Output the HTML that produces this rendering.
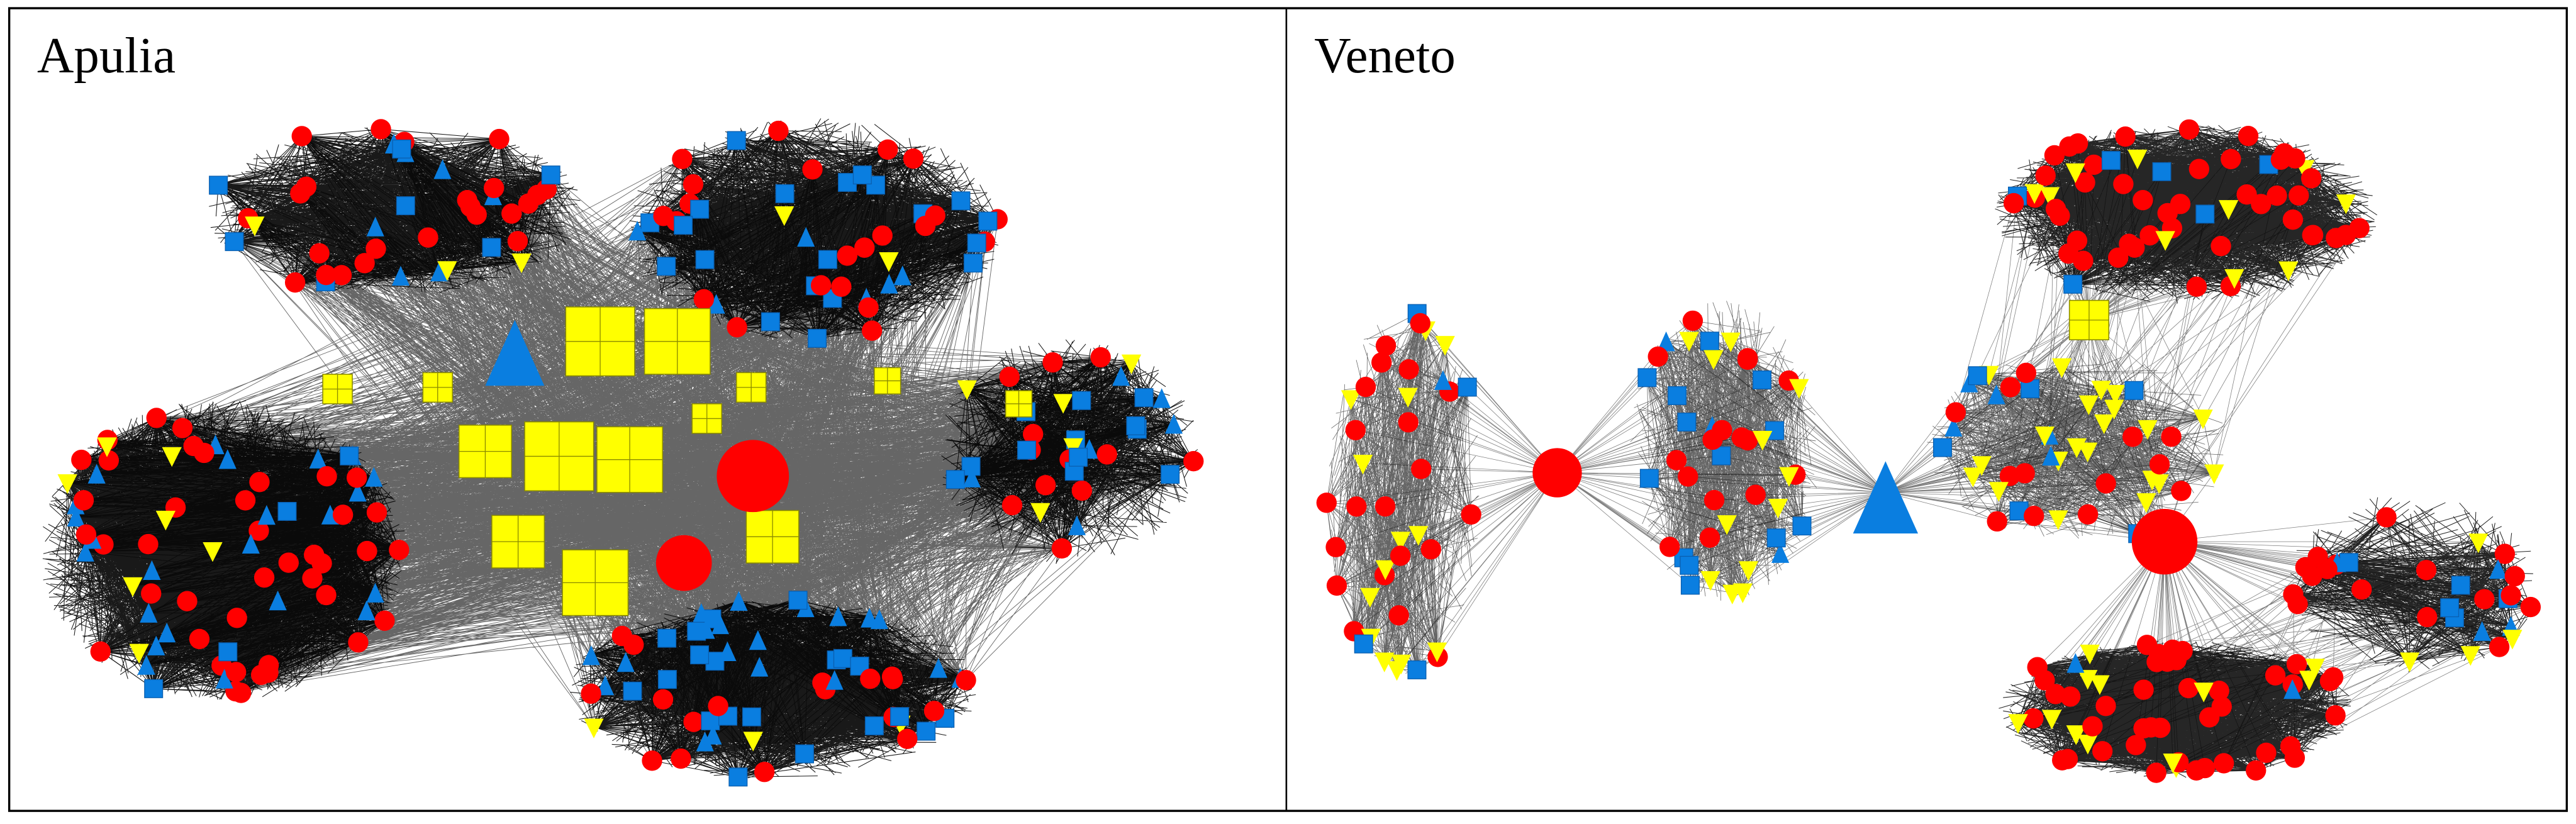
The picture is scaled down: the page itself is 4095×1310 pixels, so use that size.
<!DOCTYPE html>
<html><head><meta charset="utf-8"><style>
html,body{margin:0;padding:0;background:#fff;width:4095px;height:1310px;overflow:hidden}
svg{display:block}
</style></head><body>
<svg id="s" width="4095" height="1310" viewBox="0 0 1568 502" xmlns="http://www.w3.org/2000/svg">
<rect x="0" y="0" width="1568" height="502" fill="#fff"/>
<g id="edges" stroke="#000" fill="none"></g>
<g id="nodes"></g>
<rect x="5" y="5" width="1558" height="489" fill="none" stroke="#000" stroke-width="1.3"/>
<line x1="783" y1="5" x2="783" y2="494" stroke="#000" stroke-width="1"/>
<text x="22" y="44" font-family="Liberation Serif, serif" font-size="31" fill="#000">Apulia</text>
<text x="800" y="44" font-family="Liberation Serif, serif" font-size="31" fill="#000">Veneto</text>
</svg>
<script>
var seed=7;function R(){seed=(seed*16807)%2147483647;return (seed-1)/2147483646;}
var E=document.getElementById('edges'),N=document.getElementById('nodes');
var NS='http://www.w3.org/2000/svg';
var ep=[];
function line(a,b){ep.push('M'+a[0].toFixed(1)+' '+a[1].toFixed(1)+'L'+b[0].toFixed(1)+' '+b[1].toFixed(1));}
function flush(op,w){var p=document.createElementNS(NS,'path');p.setAttribute('d',ep.join(''));p.setAttribute('stroke-opacity',op);p.setAttribute('stroke-width',w);E.appendChild(p);ep=[];}
function inE(c){var t=R()*6.283,r=Math.sqrt(R());return [c[0]+Math.cos(t)*c[2]*r,c[1]+Math.sin(t)*c[3]*r];}
var nodeList=[];
function node(t,x,y,s){nodeList.push([t,x,y,s||6]);}
function cluster(c,n,weights,edges){var pts=[];for(var i=0;i<n;i++){var p=inE(c);pts.push(p);var r=R(),acc=0,t='c';for(var k in weights){acc+=weights[k];if(r<acc){t=k;break;}}node(t,p[0],p[1]);}
 for(var i=0;i<edges;i++){var a=pts[Math.floor(R()*n)],b=R()<0.5?pts[Math.floor(R()*n)]:inE(c);line(a,b);}return pts;}
function connect(A,B,n){for(var i=0;i<n;i++){line(A[Math.floor(R()*A.length)],B[Math.floor(R()*B.length)]);}}
function hub(h,A,n){for(var i=0;i<n;i++)line(h,A[Math.floor(R()*A.length)]);}
// Apulia
var aL=cluster([135,335,112,92],75,{c:.6,t:.3,y:.06,s:.04},4500);
var aT=cluster([240,128,115,52],40,{c:.5,s:.3,t:.12,y:.08},1900);
var aTR=cluster([495,140,115,68],50,{c:.4,s:.4,t:.1,y:.1},2300);
var aR=cluster([650,275,80,70],35,{c:.35,s:.35,t:.15,y:.15},1300);
var aB=cluster([470,420,125,55],60,{c:.35,s:.35,t:.25,y:.05},2600);
var aC=[];for(var i=0;i<40;i++)aC.push(inE([420,290,140,95]));
flush(0.9,0.4);
connect(aL,aC,900);connect(aT,aC,500);connect(aTR,aC,500);connect(aR,aC,600);connect(aB,aC,600);
connect(aL,aTR,250);connect(aL,aR,400);connect(aT,aB,200);connect(aTR,aB,200);connect(aR,aB,200);
flush(0.6,0.35);
// Veneto
var vL=cluster([855,300,48,112],40,{c:.45,y:.35,s:.15,t:.05},800);
var vM=cluster([1050,275,58,92],45,{c:.45,s:.3,y:.2,t:.05},1100);
var vC=cluster([1265,272,92,58],45,{c:.35,y:.35,s:.15,t:.15},1000);
flush(0.6,0.3);
var vTR=cluster([1330,130,118,55],60,{c:.75,y:.15,s:.07,t:.03},3000);
var vRL=cluster([1470,355,78,55],30,{c:.6,y:.2,s:.1,t:.1},700);
var vB=cluster([1325,432,108,42],55,{c:.8,y:.15,t:.05},2800);
flush(0.85,0.4);
hub([948,288],vL,120);hub([948,288],vM,120);hub([1148,300],vM,120);hub([1148,300],vC,120);
hub([1272,195],vTR,120);hub([1272,195],vC,80);hub([1318,330],vRL,100);hub([1318,330],vB,120);hub([1318,330],vC,60);
connect(vC,vTR,60);connect(vRL,vB,60);
flush(0.5,0.3);
[[365,208,42],[412,208,40],[295,275,32],[340,278,42],[383,280,40],[315,330,32],[362,355,40],[470,327,32],[205,237,18],[266,236,18],[457,236,18],[430,255,18],[540,232,16],[620,246,16]].forEach(function(q){node('Y',q[0],q[1],q[2]);});
node('C',458,290,22);node('C',416,343,17);node('T',313,215,40);
node('C',948,288,15);node('T',1148,303,44);node('Y',1272,195,24);node('C',1318,330,20);
var out='';
nodeList.forEach(function(n){var t=n[0],x=n[1],y=n[2],s=n[3];
 if(t=='c'||t=='C'){var r=t=='C'?s:6.2;out+='<circle cx="'+x+'" cy="'+y+'" r="'+r+'" fill="#ff0000"/>';}
 else if(t=='s'){out+='<rect x="'+(x-5.5)+'" y="'+(y-5.5)+'" width="11" height="11" fill="#0a7ee0" stroke="#0a5fb0" stroke-width=".5"/>';}
 else if(t=='t'||t=='T'){var h=t=='T'?s:12;out+='<polygon points="'+x+','+(y-h/2)+' '+(x-h*0.45)+','+(y+h/2)+' '+(x+h*0.45)+','+(y+h/2)+'" fill="#0a7ee0"/>';}
 else if(t=='y'){out+='<polygon points="'+(x-6)+','+(y-5)+' '+(x+6)+','+(y-5)+' '+x+','+(y+7)+'" fill="#ffff00"/>';}
 else if(t=='Y'){var h=s/2;out+='<rect x="'+(x-h)+'" y="'+(y-h)+'" width="'+s+'" height="'+s+'" fill="#ffff00" stroke="#8a8a00" stroke-width=".6"/><path d="M'+x+' '+(y-h)+'V'+(y+h)+'M'+(x-h)+' '+y+'H'+(x+h)+'" stroke="#8a8a00" stroke-width=".5"/>';}
});
N.innerHTML=out;
</script>
</body></html>
